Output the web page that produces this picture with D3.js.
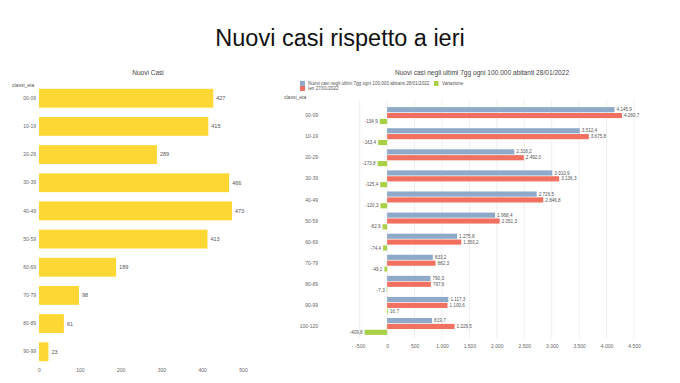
<!DOCTYPE html>
<html><head><meta charset="utf-8">
<script src="https://cdn.jsdelivr.net/npm/d3@7"></script>
<style>
body{margin:0;background:#fff;}
svg{display:block;font-family:"Liberation Sans",Arial,sans-serif;}
</style></head><body>
<script>
// ---- Data ----
const leftCategories = ["00-09","10-19","20-29","30-39","40-49","50-59","60-69","70-79","80-89","90-99"];
const leftValues = [427,415,289,466,473,413,189,98,61,23];
const leftTicks = [0,100,200,300,400,500];

const rightCategories = ["00-09","10-19","20-29","30-39","40-49","50-59","60-69","70-79","80-89","90-99","100-120"];
const todayValues = [4145.9,3512.4,2318.2,3010.9,2726.5,1968.4,1275.8,833.2,790.3,1117.3,819.7];
const yesterdayValues = [4280.7,3675.8,2492.0,3136.3,2846.8,2051.3,1350.2,882.3,797.6,1100.6,1229.5];
const variationValues = [-134.9,-163.4,-173.8,-125.4,-120.3,-82.9,-74.4,-49.1,-7.3,16.7,-409.8];
const rightTicks = [-500,0,500,1000,1500,2000,2500,3000,3500,4000,4500];
const seriesNames = ["Nuovi casi negli ultimi 7gg ogni 100.000 abitanti 28/01/2022","Ieri 27/01/2022","Variazione"];
const seriesColors = ["#8faac9","#f1705f","#a9d046"];

const itLocale = d3.formatLocale({decimal:",",thousands:".",grouping:[3],currency:["","€"],minus:"-"});
const fmt1 = itLocale.format(",.1f");
const fmt0 = itLocale.format(",.0f");

const W=680,H=383;
const svg = d3.select("body").append("svg").attr("width",W).attr("height",H);

// Main title
svg.append("text").attr("x",340).attr("y",46).attr("text-anchor","middle")
  .attr("font-size",23.5).attr("fill","#111").text("Nuovi casi rispetto a ieri");

// ---- Left chart ----
const lx = d3.scaleLinear().domain([0,500]).range([39,243]);
const ly = d3.scaleBand().domain(leftCategories).range([84,366]).paddingInner(0.33).paddingOuter(0.17);
const L = svg.append("g");
L.append("text").attr("x",148).attr("y",75).attr("text-anchor","middle").attr("font-size",6.5).attr("fill","#444").text("Nuovi Casi");
L.append("text").attr("x",12).attr("y",87).attr("font-size",5).attr("fill","#555").text("classi_eta");
L.selectAll("rect.b").data(leftValues).join("rect")
  .attr("x",lx(0)).attr("y",(d,i)=>ly(leftCategories[i]))
  .attr("width",d=>lx(d)-lx(0)).attr("height",ly.bandwidth()).attr("fill","#fdd835");
L.selectAll("text.v").data(leftValues).join("text")
  .attr("x",d=>lx(d)+3).attr("y",(d,i)=>ly(leftCategories[i])+ly.bandwidth()/2)
  .attr("dy","0.35em").attr("font-size",5.5).attr("fill","#555").text(d=>d);
const lyAxis = L.append("g").attr("transform",`translate(${lx(0)},0)`)
  .call(d3.axisLeft(ly).tickSize(0).tickPadding(3));
lyAxis.select(".domain").remove();
lyAxis.selectAll("text").attr("font-size",5).attr("fill","#666").attr("font-family","Liberation Sans, Arial, sans-serif");
const lxAxis = L.append("g").attr("transform","translate(0,364)")
  .call(d3.axisBottom(lx).tickValues(leftTicks).tickSize(0).tickPadding(4).tickFormat(fmt0));
lxAxis.select(".domain").remove();
lxAxis.selectAll("text").attr("font-size",5).attr("fill","#666").attr("font-family","Liberation Sans, Arial, sans-serif");

// ---- Right chart ----
const rx = d3.scaleLinear().domain([-500,4500]).range([359.7,634]);
const ry = d3.scaleBand().domain(rightCategories).range([105,337]).paddingInner(0.2).paddingOuter(0.1);
const sub = d3.scaleBand().domain([0,1,2]).range([0,ry.bandwidth()]).paddingInner(0.12);
const R = svg.append("g");
R.append("text").attr("x",482).attr("y",75).attr("text-anchor","middle").attr("font-size",6.6).attr("fill","#444").text("Nuovi casi negli ultimi 7gg ogni 100.000 abitanti 28/01/2022");

// legend
const legendPos = [[300,81],[300,86],[434,81]];
seriesNames.forEach((n,i)=>{
  R.append("rect").attr("x",legendPos[i][0]).attr("y",legendPos[i][1]).attr("width",i==2?4.5:5).attr("height",5).attr("fill",seriesColors[i]);
  R.append("text").attr("x",legendPos[i][0]+8).attr("y",legendPos[i][1]+3.9).attr("font-size",4.6).attr("fill","#555").text(n);
});
R.append("text").attr("x",284).attr("y",99).attr("font-size",5).attr("fill","#555").text("classi_eta");

// grid
R.append("g").selectAll("line").data(rightTicks).join("line")
  .attr("x1",d=>rx(d)).attr("x2",d=>rx(d)).attr("y1",100).attr("y2",338)
  .attr("stroke","#e6e6e6").attr("stroke-width",0.7);

const series = [todayValues,yesterdayValues,variationValues];
series.forEach((vals,s)=>{
  R.append("g").selectAll("rect").data(vals).join("rect")
    .attr("x",d=>rx(Math.min(0,d))).attr("y",(d,i)=>ry(rightCategories[i])+sub(s))
    .attr("width",d=>Math.abs(rx(d)-rx(0))).attr("height",sub.bandwidth()).attr("fill",seriesColors[s]);
  R.append("g").selectAll("text").data(vals).join("text")
    .attr("x",d=>d<0?rx(d)-2:rx(d)+2).attr("text-anchor",d=>d<0?"end":"start")
    .attr("y",(d,i)=>ry(rightCategories[i])+sub(s)+sub.bandwidth()/2)
    .attr("dy","0.35em").attr("font-size",4.6).attr("fill","#555").text(d=>fmt1(d));
});

const ryAxis = R.append("g").attr("transform","translate(320,0)")
  .call(d3.axisLeft(ry).tickSize(0).tickPadding(2));
ryAxis.select(".domain").remove();
ryAxis.selectAll("text").attr("font-size",5).attr("fill","#666").attr("font-family","Liberation Sans, Arial, sans-serif");
const rxAxis = R.append("g").attr("transform","translate(0,342)")
  .call(d3.axisBottom(rx).tickValues(rightTicks).tickSize(0).tickPadding(2).tickFormat(fmt0));
rxAxis.select(".domain").remove();
rxAxis.selectAll("text").attr("font-size",5).attr("fill","#666").attr("font-family","Liberation Sans, Arial, sans-serif");
</script>
</body></html>
